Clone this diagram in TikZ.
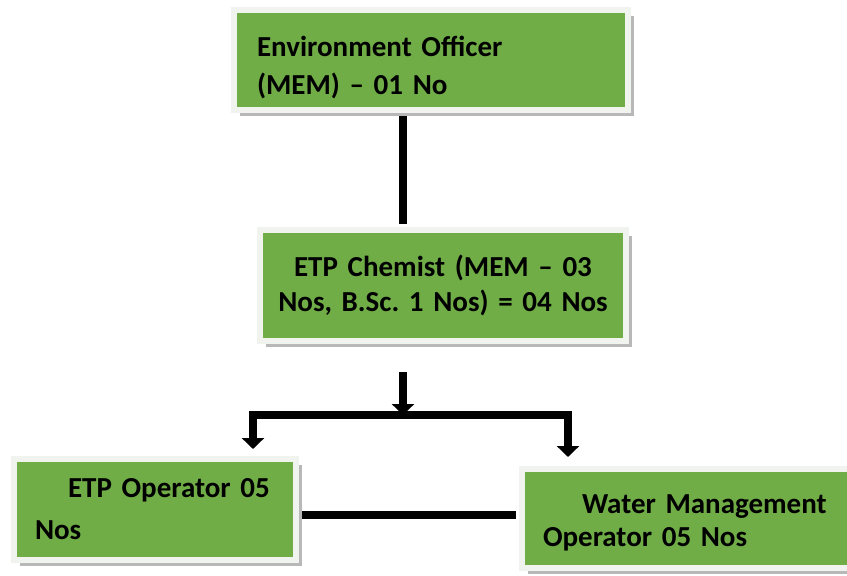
\documentclass[tikz,border=0pt]{standalone}
\usepackage{fontspec}
\setmainfont{Carlito}
\usetikzlibrary{arrows.meta,shadows}
\definecolor{boxgreen}{RGB}{112,173,71}
\definecolor{framegray}{RGB}{241,243,239}
\newcommand\stafffont{\bfseries\fontsize{29}{38}\selectfont\frenchspacing
  \spaceskip=0.17em plus 0.05em minus 0.03em\relax}
\tikzset{
  staffbox/.style={rectangle, fill=boxgreen, draw=framegray, line width=6pt,
    font=\stafffont, inner ysep=0pt, inner xsep=6pt,
    drop shadow={shadow xshift=6pt, shadow yshift=-6pt, fill=black!28, opacity=1}},
  link/.style={line width=8pt},
  flow/.style={line width=8pt, line join=miter, -{Triangle[width=22pt,length=11pt]}}
}
\begin{document}
\begin{tikzpicture}[x=1pt, y=-1pt]
        \useasboundingbox (0,0) rectangle (847,576);
        % Staff boxes
        \node[staffbox, minimum width=394pt, minimum height=100pt, text width=382pt, align=left] (officer) at (431,60) {\hspace*{17pt}\rule{0pt}{35pt}Environment Officer\\ \hspace*{17pt}(MEM) – 01 No};
        \node[staffbox, minimum width=366pt, minimum height=111pt, text width=354pt, align=center] (chemist) at (443,285.5) {ETP Chemist (MEM – 03\\[-3pt]Nos, B.Sc. 1 Nos) = 04 Nos};
        \node[staffbox, minimum width=282pt, minimum height=101pt, text width=270pt, align=left] (etp) at (155,509.5) {\hspace*{48pt}ETP Operator 05\\[4pt] \hspace*{15pt}Nos};
        \node[staffbox, minimum width=333pt, minimum height=99pt, text width=321pt, align=left] (water) at (688.5,518.5) {\hspace*{54pt}\rule{0pt}{27pt}Water Management\\[-5pt] \hspace*{15pt}Operator 05 Nos};
        % Junction points
        \coordinate (trunk) at (403,372);
        \coordinate (split) at (403,415);
        \coordinate (barL) at (253,415);
        \coordinate (barR) at (568,415);
        \coordinate (mid) at (0,515);
        % Connectors
        \draw[link, shorten <=3pt, shorten >=3pt] (officer.south -| split) -- (chemist.north -| split);
        \draw[flow] (trunk) -- (split);
        \draw[flow, shorten >=7pt] (split) -| (etp.north -| barL);
        \draw[flow, shorten >=9pt] (split) -| (water.north -| barR);
        \draw[link, shorten <=3pt, shorten >=3pt] (etp.east |- mid) -- (water.west |- mid);
\end{tikzpicture}
\end{document}
